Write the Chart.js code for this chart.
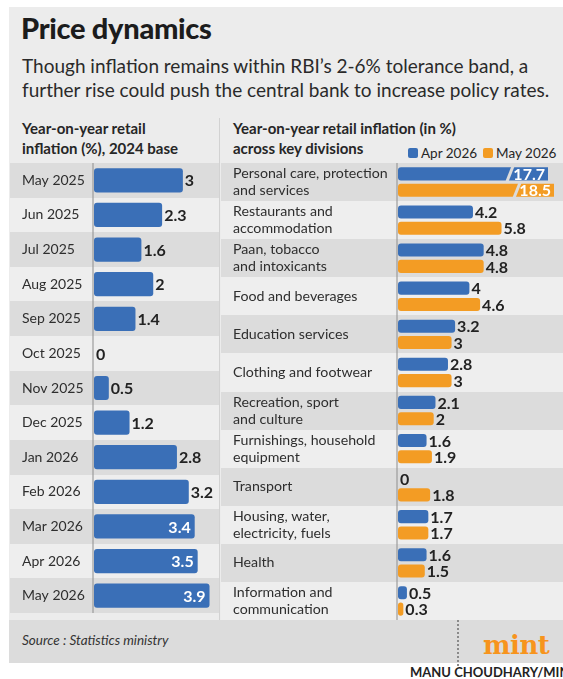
<!DOCTYPE html>
<html><head><meta charset="utf-8">
<script src="https://cdn.jsdelivr.net/npm/chart.js@4"></script>
<style>
html,body{margin:0;padding:0}
body{width:563px;height:679px;background:#fff;position:relative;overflow:hidden;font-family:Lato,sans-serif;color:#262626}
.abs{position:absolute;white-space:nowrap}
#panel{left:9px;top:7px;width:554px;height:656px;background:#ececec}
#title{left:21px;top:10px;font-size:29px;font-weight:900;color:#1c1c1c;letter-spacing:-0.3px}
#sub{left:22px;top:54px;font-size:19px;line-height:24px;color:#2a2a2a}
.hdr{font-size:15px;font-weight:700;line-height:20px;color:#262626}
#hl{left:22px;top:118px}
#hr{left:233px;top:118px}
#legend{left:408px;top:145px;font-size:13.5px;color:#262626;display:flex;align-items:center}
.sw{display:inline-block;width:10px;height:10px;border-radius:2px;margin-right:3px}
#divider{left:219px;top:118px;width:1px;height:502px;background:#d2d2d2}
#footer{left:9px;top:620px;width:554px;height:43px;background:#dcdcdc}
#src{left:22px;top:632px;font-size:13.5px;font-style:italic;color:#333}
#dots{left:457px;top:620px;height:46px;width:0;border-left:2px dotted #8a8a8a}
#mint{left:483px;top:630px;font-family:"DejaVu Serif",serif;font-weight:900;font-size:26px;color:#f7941d;letter-spacing:-0.5px}
#credit{left:410px;top:664px;font-size:13px;font-weight:700;color:#222}
#lc{left:10px;top:163px;width:209px;height:450px}
#rc{left:221px;top:163px;width:342px;height:457px}
</style></head>
<body>
<div class="abs" id="panel"></div>
<div class="abs" id="title">Price dynamics</div>
<div class="abs" id="sub">Though inflation remains within RBI’s 2-6% tolerance band, a<br>further rise could push the central bank to increase policy rates.</div>
<div class="abs hdr" id="hl">Year-on-year retail<br>inflation (%), 2024 base</div>
<div class="abs hdr" id="hr">Year-on-year retail inflation (in %)<br>across key divisions</div>
<div class="abs" id="legend"><span class="sw" style="background:#3a6fb7"></span><span>Apr 2026</span><span class="sw" style="background:#f39c24;margin-left:6px"></span><span>May 2026</span></div>
<div class="abs" id="divider"></div>
<div class="abs" id="footer"></div>
<div class="abs" id="src">Source : Statistics ministry</div>
<div class="abs" id="dots"></div>
<div class="abs" id="mint">mint</div>
<div class="abs" id="credit">MANU CHOUDHARY/MINT</div>
<div class="abs" id="lc"><canvas id="leftChart"></canvas></div>
<div class="abs" id="rc"><canvas id="rightChart"></canvas></div>
<script>
// ---- data ----
const monthLabels = ['May 2025','Jun 2025','Jul 2025','Aug 2025','Sep 2025','Oct 2025','Nov 2025','Dec 2025','Jan 2026','Feb 2026','Mar 2026','Apr 2026','May 2026'];
const monthValues = [3, 2.3, 1.6, 2, 1.4, 0, 0.5, 1.2, 2.8, 3.2, 3.4, 3.5, 3.9];

const divisionLabels = [
  ['Personal care, protection','and services'],
  ['Restaurants and','accommodation'],
  ['Paan, tobacco','and intoxicants'],
  'Food and beverages',
  'Education services',
  'Clothing and footwear',
  ['Recreation, sport','and culture'],
  ['Furnishings, household','equipment'],
  'Transport',
  ['Housing, water,','electricity, fuels'],
  'Health',
  ['Information and','communication']
];
const apr2026Values = [17.7, 4.2, 4.8, 4, 3.2, 2.8, 2.1, 1.6, 0, 1.7, 1.6, 0.5];
const may2026Values = [18.5, 5.8, 4.8, 4.6, 3, 3, 2, 1.9, 1.8, 1.7, 1.5, 0.3];
const seriesNames = ['Apr 2026','May 2026'];

// ---- styles ----
const BLUE = '#3a6fb7', ORANGE = '#f39c24';
const STRIPE_DARK = '#dcdcdc', STRIPE_LIGHT = '#eeeeee';

const stripesPlugin = {
  id: 'stripes',
  beforeDraw(chart) {
    const {ctx, chartArea, scales} = chart;
    const n = chart.data.labels.length;
    const h = (chartArea.bottom - chartArea.top) / n;
    ctx.save();
    for (let i = 0; i < n; i++) {
      ctx.fillStyle = i % 2 === 0 ? STRIPE_DARK : STRIPE_LIGHT;
      const yc = scales.y.getPixelForTick(i);
      ctx.fillRect(0, Math.round(yc - h / 2), chart.width, Math.round(h) + 1);
    }
    ctx.restore();
  },
  beforeDatasetsDraw(chart) {
    const {ctx, chartArea} = chart;
    const x0 = chart.scales.x.getPixelForValue(0);
    ctx.save();
    ctx.strokeStyle = 'rgba(150,150,150,0.55)';
    ctx.lineWidth = 2;
    ctx.beginPath();
    ctx.moveTo(x0 - 1, chartArea.top);
    ctx.lineTo(x0 - 1, chartArea.bottom);
    ctx.stroke();
    ctx.restore();
  }
};

const valueLabelsPlugin = {
  id: 'valueLabels',
  afterDatasetsDraw(chart, args, opts) {
    const {ctx, chartArea} = chart;
    const xs = chart.scales.x;
    ctx.save();
    ctx.font = `700 ${opts.size}px Lato, sans-serif`;
    ctx.textBaseline = 'middle';
    chart.data.datasets.forEach((ds, di) => {
      const meta = chart.getDatasetMeta(di);
      meta.data.forEach((el, i) => {
        const v = ds.data[i];
        const txt = String(v);
        if (v > xs.max) {
          const clipR = (ds.clip && typeof ds.clip.right === 'number') ? ds.clip.right : 0;
          const endX = chartArea.right + clipR;
          const bx = endX - opts.breakOffset[di];
          ctx.strokeStyle = i % 2 === 0 ? STRIPE_DARK : STRIPE_LIGHT;
          ctx.lineWidth = 3;
          ctx.beginPath();
          ctx.moveTo(bx - 3, el.y + el.height / 2 + 1);
          ctx.lineTo(bx + 3, el.y - el.height / 2 - 1);
          ctx.stroke();
          ctx.fillStyle = '#fff';
          ctx.textAlign = 'right';
          ctx.fillText(txt, endX - 3, el.y + 1);
        } else if (v >= opts.insideFrom) {
          ctx.fillStyle = '#fff';
          ctx.textAlign = 'right';
          ctx.fillText(txt, el.x - 4, el.y + 1);
        } else {
          ctx.fillStyle = '#222';
          ctx.textAlign = 'left';
          ctx.fillText(txt, el.x + 2, el.y + 1);
        }
      });
    });
    ctx.restore();
  }
};

Chart.defaults.font.family = 'Lato, sans-serif';
Chart.defaults.animation = false;

function fitY(width) {
  return function(s) { s.width = width; s.paddingTop = 0; s.paddingBottom = 0; };
}

new Chart(document.getElementById('leftChart'), {
  type: 'bar',
  data: {
    labels: monthLabels,
    datasets: [{
      label: 'Year-on-year retail inflation (%)',
      data: monthValues,
      backgroundColor: BLUE,
      borderRadius: 3,
      borderSkipped: false,
      categoryPercentage: 0.7,
      barPercentage: 1
    }]
  },
  options: {
    indexAxis: 'y',
    responsive: true,
    maintainAspectRatio: false,
    layout: {padding: {left: 12, right: 0, top: 0, bottom: 0}},
    scales: {
      x: {display: false, min: 0, max: 4.22},
      y: {
        grid: {display: false}, border: {display: false},
        ticks: {crossAlign: 'far', padding: 0, color: '#2e2e2e', font: {size: 14}},
        afterFit: fitY(72)
      }
    },
    plugins: {
      legend: {display: false}, tooltip: {enabled: false},
      valueLabels: {size: 16, insideFrom: 3.3, breakOffset: [40, 36]}
    }
  },
  plugins: [stripesPlugin, valueLabelsPlugin]
});

new Chart(document.getElementById('rightChart'), {
  type: 'bar',
  data: {
    labels: divisionLabels,
    datasets: [
      {label: seriesNames[0], data: apr2026Values, backgroundColor: BLUE, borderRadius: 3, borderSkipped: false,
       categoryPercentage: 0.86, barPercentage: 0.8, clip: {left: 0, top: false, right: -6, bottom: false}},
      {label: seriesNames[1], data: may2026Values, backgroundColor: ORANGE, borderRadius: 3, borderSkipped: false,
       categoryPercentage: 0.86, barPercentage: 0.8, clip: {left: 0, top: false, right: 0, bottom: false}}
    ]
  },
  options: {
    indexAxis: 'y',
    responsive: true,
    maintainAspectRatio: false,
    layout: {padding: {left: 12, right: 9, top: 0, bottom: 0}},
    scales: {
      x: {display: false, min: 0, max: 8.74},
      y: {
        grid: {display: false}, border: {display: false},
        ticks: {crossAlign: 'far', padding: 0, color: '#2e2e2e', font: {size: 14.2, lineHeight: 1.2}},
        afterFit: fitY(165)
      }
    },
    plugins: {
      legend: {display: false}, tooltip: {enabled: false},
      valueLabels: {size: 16, insideFrom: 1e9, breakOffset: [38, 37]}
    }
  },
  plugins: [stripesPlugin, valueLabelsPlugin]
});
</script>
</body></html>
